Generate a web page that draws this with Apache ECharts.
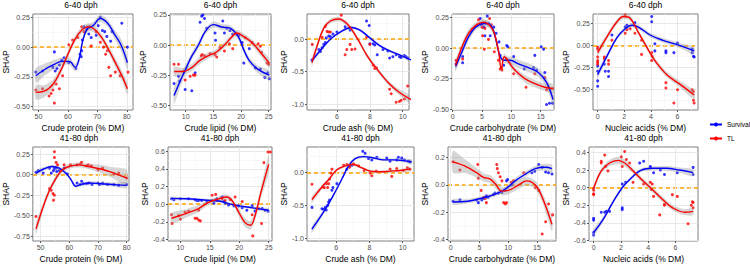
<!DOCTYPE html>
<html>
<head>
<meta charset="utf-8">
<script src="https://cdn.jsdelivr.net/npm/echarts@6/dist/echarts.min.js"></script>
<style>
html,body{margin:0;padding:0;background:#fff}
#main{width:750px;height:264px}
</style>
</head>
<body>
<div id="main"></div>
<script>
// tick labels
var proteinTicks = [50, 60, 70, 80]
var lipidTicks = [10, 15, 20, 25]
var ashTicks = [6, 8, 10]
var carbTicks = [0, 5, 10, 15]
var nucleicTicks = [0, 2, 4, 6]

// ---- 6-40 dph ----  points [x, shap], fits [x, shap, se]
var protEarlySurv = [[49.1,-0.21],[51.4,-0.20],[54.9,-0.17],[55.4,-0.04],[55.7,-0.20],[56.3,-0.18],[57.1,-0.15],[57.9,-0.11],[58.7,-0.09],[60.3,-0.13],[62.7,-0.18],[64.1,-0.06],[64.5,-0.08],[64.7,-0.03],[64.9,0.06],[65.5,0.17],[66.3,0.15],[67.1,0.11],[67.9,0.08],[69.6,0.10],[70.3,0.18],[71.0,0.25],[71.7,0.14],[72.5,0.13],[73.2,0.09],[74.5,0.05],[75.0,0.13],[78.3,0.20],[80.2,0.0]]
var protEarlyTL = [[49.1,-0.36],[51.4,-0.35],[53.6,-0.41],[54.3,-0.39],[54.9,-0.36],[55.4,-0.47],[56.0,-0.31],[57.1,-0.35],[58.2,-0.24],[60.3,0.02],[61.6,0.06],[63.4,0.08],[64.7,0.17],[65.5,0.13],[66.6,0.17],[67.4,0.17],[67.9,0.01],[69.6,0.13],[71.0,0.04],[72.1,0.0],[72.8,-0.06],[73.4,-0.03],[73.9,-0.17],[74.5,-0.24],[76.1,-0.21],[77.7,-0.24],[80.4,-0.21]]
var protEarlySurvFit = [[49.1,-0.24,0.06],[52,-0.19,0.05],[55,-0.15,0.04],[58,-0.12,0.03],[60.5,-0.12,0.03],[62.5,-0.17,0.03],[63.8,-0.10,0.03],[65,0.05,0.03],[66.5,0.15,0.03],[68.5,0.18,0.03],[71,0.24,0.03],[73.5,0.20,0.03],[76,0.10,0.04],[78,0.02,0.05],[80.2,-0.13,0.06]]
var protEarlyTLFit = [[49.1,-0.38,0.06],[52,-0.37,0.05],[55,-0.31,0.04],[57.5,-0.20,0.035],[60,-0.06,0.03],[62.5,0.07,0.03],[65,0.15,0.03],[67,0.17,0.03],[69,0.15,0.03],[71.5,0.08,0.03],[74,-0.03,0.03],[76.5,-0.15,0.04],[78.5,-0.25,0.045],[80.2,-0.35,0.05]]

var lipidEarlySurv = [[7.9,-0.32],[8.7,-0.26],[8.9,-0.30],[9.9,-0.37],[11.1,-0.38],[11.7,-0.23],[12.6,0.19],[12.9,0.24],[13.1,0.25],[13.4,0.22],[13.8,0.14],[15.3,0.10],[15.4,0.04],[16.7,0.20],[17.0,0.10],[17.4,0.14],[18.0,0.12],[18.5,0.09],[19.6,0.08],[20.2,0.02],[20.5,-0.15],[21.5,-0.03],[22.6,-0.19],[23.5,-0.20],[24.3,-0.27],[24.8,-0.23],[25.1,-0.28]]
var lipidEarlyTL = [[7.9,-0.16],[8.7,-0.16],[9.6,-0.22],[9.9,-0.29],[10.8,-0.26],[11.4,-0.25],[11.7,-0.25],[12.8,-0.09],[13.0,-0.08],[13.4,-0.09],[14.4,-0.07],[15.3,-0.08],[15.6,-0.10],[16.2,-0.02],[17.0,-0.05],[17.9,0.01],[18.5,-0.03],[19.2,0.09],[20.8,0.06],[22.0,0.02],[23.1,0.01],[23.5,-0.01],[23.7,-0.06],[24.7,-0.15],[25.0,-0.16]]
var lipidEarlySurvFit = [[7.9,-0.42,0.07],[9,-0.30,0.05],[10,-0.20,0.04],[11,-0.10,0.03],[12.3,0.0,0.03],[13.5,0.11,0.025],[15,0.17,0.025],[16.5,0.15,0.025],[18,0.14,0.025],[19.5,0.07,0.025],[20.5,-0.04,0.025],[21.5,-0.13,0.025],[23,-0.20,0.03],[25.1,-0.25,0.04]]
var lipidEarlyTLFit = [[7.9,-0.22,0.04],[9.5,-0.22,0.03],[11,-0.19,0.03],[12.5,-0.13,0.03],[14,-0.09,0.025],[15.5,-0.06,0.025],[17,0.0,0.025],[18.2,0.06,0.025],[19.2,0.10,0.025],[20.5,0.07,0.025],[22,0.02,0.025],[23.5,-0.06,0.03],[25.1,-0.15,0.04]]

var ashEarlySurv = [[4.48,-0.32],[4.9,-0.16],[5.0,-0.19],[5.1,-0.13],[5.2,-0.08],[5.3,-0.05],[5.35,0.02],[5.5,0.05],[5.6,0.04],[5.76,0.08],[6.0,0.11],[6.5,0.19],[6.8,0.14],[7.8,0.28],[7.96,0.21],[8.0,-0.07],[8.2,-0.07],[8.3,-0.09],[8.45,-0.24],[8.8,-0.16],[9.1,-0.18],[9.2,-0.29],[9.4,-0.27],[9.6,-0.24],[9.8,-0.27],[9.9,-0.28],[10.1,-0.25],[10.2,-0.27],[10.3,-0.29],[10.5,-0.28]]
var ashEarlyTL = [[4.5,-0.08],[5.1,0.03],[5.3,0.20],[5.4,0.12],[5.5,0.11],[5.6,0.11],[6.26,0.37],[6.5,-0.24],[6.6,-0.16],[6.8,-0.08],[6.8,0.18],[6.9,-0.16],[7.1,-0.15],[7.8,0.03],[8.0,-0.08],[8.2,-0.40],[8.3,-0.45],[8.4,-0.44],[9.2,-0.77],[9.3,-0.84],[9.6,-0.97],[9.8,-0.96],[9.9,-0.94],[10.1,-0.92],[10.3,-0.72],[10.45,-0.78],[10.5,-0.72]]
var ashEarlySurvFit = [[4.48,-0.33,0.04],[5.0,-0.17,0.03],[5.6,0.0,0.02],[6.2,0.11,0.02],[6.9,0.18,0.02],[7.4,0.14,0.02],[8.0,0.02,0.02],[8.6,-0.10,0.02],[9.2,-0.18,0.02],[9.8,-0.24,0.02],[10.5,-0.32,0.035]]
var ashEarlyTLFit = [[4.48,-0.36,0.06],[4.8,-0.10,0.05],[5.2,0.17,0.04],[5.6,0.28,0.035],[6.1,0.31,0.035],[6.6,0.24,0.035],[7.2,0.03,0.035],[7.8,-0.24,0.035],[8.4,-0.45,0.035],[9.2,-0.69,0.04],[9.8,-0.82,0.045],[10.5,-0.93,0.06]]

var carbEarlySurv = [[0.57,-0.13],[0.74,-0.11],[1.7,-0.07],[1.7,-0.12],[4.7,0.24],[4.9,0.19],[5.3,0.17],[5.5,0.10],[5.9,0.26],[6.1,0.20],[6.4,0.10],[7.0,0.17],[7.4,0.12],[7.9,0.05],[8.1,-0.06],[8.7,-0.14],[9.2,0.02],[9.4,0.01],[10.4,-0.07],[12.2,-0.17],[13.8,-0.16],[14.0,-0.06],[14.3,-0.18],[15.1,0.01],[15.5,-0.01],[15.7,-0.20],[16.0,-0.46],[16.5,-0.45],[17.0,-0.45]]
var carbEarlyTL = [[0.57,-0.10],[1.7,-0.09],[4.4,0.23],[5.0,0.17],[5.1,0.10],[5.4,-0.01],[5.5,0.16],[6.1,0.07],[6.3,0.24],[6.6,0.19],[7.1,-0.03],[7.8,-0.10],[8.1,-0.17],[8.3,-0.16],[8.4,-0.18],[9.2,-0.09],[10.4,-0.21],[12.5,-0.32],[14.0,-0.21],[15.7,-0.24],[16.0,-0.34],[16.3,-0.32],[17.0,-0.33]]
var carbEarlySurvFit = [[0.5,-0.15,0.04],[1.6,-0.03,0.03],[2.7,0.09,0.03],[3.9,0.17,0.025],[5.3,0.20,0.025],[6.4,0.19,0.025],[7.2,0.10,0.025],[8.1,-0.07,0.025],[8.8,-0.10,0.025],[9.8,-0.10,0.03],[11.2,-0.13,0.035],[12.9,-0.16,0.035],[14.6,-0.20,0.035],[16,-0.28,0.04],[17.1,-0.42,0.05]]
var carbEarlyTLFit = [[0.5,-0.14,0.04],[1.6,0.01,0.03],[2.7,0.12,0.03],[4.1,0.19,0.025],[5.3,0.21,0.025],[6.4,0.18,0.025],[7.1,0.12,0.025],[7.8,-0.02,0.025],[8.3,-0.17,0.025],[8.8,-0.07,0.025],[9.5,-0.11,0.025],[10.6,-0.18,0.025],[12.3,-0.25,0.03],[14,-0.29,0.03],[15.7,-0.32,0.03],[17,-0.33,0.04]]

var nucEarlySurv = [[0,-0.23],[0,-0.29],[0,-0.40],[0,-0.46],[0.5,-0.21],[0.57,-0.29],[0.82,-0.29],[0.82,-0.35],[1.07,0.12],[2.07,0.21],[2.2,0.23],[2.8,0.26],[4.06,0.33],[4.06,0.27],[4.3,0.02],[4.3,-0.06],[5.13,-0.06],[5.13,-0.08],[5.73,-0.08],[6.0,0.03],[7.1,-0.04],[7.1,-0.08],[7.2,-0.12],[7.25,-0.13]]
var nucEarlyTL = [[0,-0.02],[0,-0.04],[0,-0.13],[0,-0.17],[0,-0.19],[0,-0.21],[0.5,-0.13],[0.5,-0.15],[0.82,-0.17],[0.82,-0.21],[1.07,0.06],[2.07,0.35],[2.07,0.14],[2.2,0.18],[2.44,0.19],[2.8,0.14],[3.3,0.06],[3.3,-0.10],[4.06,-0.08],[4.06,-0.17],[4.1,-0.12],[5.13,-0.42],[5.13,-0.48],[6.0,-0.50],[5.73,-0.65],[7.1,-0.50],[7.2,-0.52],[7.2,-0.62],[7.25,-0.65]]
var nucEarlySurvFit = [[0,-0.33,0.04],[0.7,-0.12,0.03],[1.45,0.09,0.025],[2.07,0.19,0.025],[2.56,0.23,0.025],[3.06,0.21,0.025],[3.94,0.12,0.025],[4.9,0.06,0.025],[6.2,0.0,0.03],[7.25,-0.06,0.04]]
var nucEarlyTLFit = [[0,-0.08,0.04],[0.7,0.10,0.03],[1.45,0.27,0.03],[1.95,0.33,0.03],[2.44,0.31,0.03],[3.06,0.15,0.03],[3.7,-0.02,0.03],[4.3,-0.17,0.03],[5.2,-0.33,0.03],[6.2,-0.44,0.035],[7.25,-0.56,0.05]]

// ---- 41-80 dph ----
var protLateSurv = [[48.4,0.03],[49.2,0.05],[50.9,0.02],[53.1,0.08],[53.7,0.02],[54.5,0.05],[54.8,0.08],[55.4,0.08],[55.6,0.04],[56.5,0.05],[58.2,0.08],[59.3,0.01],[62.7,-0.10],[63.8,-0.12],[64.3,-0.08],[64.9,-0.11],[66.0,-0.11],[66.8,-0.10],[67.9,-0.12],[70.0,-0.10],[70.5,-0.12],[71.6,-0.10],[73.3,-0.12],[75.5,-0.12],[77.2,-0.13],[80.0,-0.12]]
var protLateTL = [[48.4,-0.51],[53.1,-0.17],[53.7,-0.19],[54.3,-0.23],[54.5,-0.31],[54.8,-0.25],[54.8,0.28],[54.8,0.21],[55.4,0.15],[55.9,0.12],[57.1,0.05],[58.2,0.12],[60.4,0.12],[62.7,0.12],[63.8,0.13],[64.3,0.15],[66.0,0.11],[66.6,0.12],[67.7,0.11],[70.0,0.06],[71.6,0.08],[75.5,0.01],[77.2,0.02],[80.0,-0.04]]
var protLateSurvFit = [[48.4,0.02,0.03],[51,0.07,0.025],[54,0.10,0.02],[56.5,0.08,0.02],[58.7,0.02,0.02],[60.4,-0.05,0.02],[62.3,-0.14,0.02],[64,-0.12,0.02],[67,-0.10,0.02],[71,-0.11,0.02],[75,-0.12,0.025],[80,-0.13,0.035]]
var protLateTLFit = [[48.4,-0.66,0.07],[50.9,-0.39,0.05],[53.1,-0.19,0.04],[55.4,-0.04,0.035],[57.6,0.06,0.03],[59.9,0.10,0.03],[63.2,0.12,0.03],[66.6,0.10,0.03],[71,0.07,0.05],[75.5,0.02,0.07],[80,-0.04,0.1]]

var lipidLateSurv = [[8.5,0.06],[8.9,0.05],[10,0.06],[11.4,0.06],[12.5,0.05],[12.8,0.04],[13.1,0.04],[13.6,0.04],[14.5,0.03],[15.4,0.04],[15.7,0.01],[16.2,0.06],[17.1,0.08],[17.4,0.03],[17.6,0.01],[18.2,-0.01],[19.1,-0.02],[19.9,-0.02],[20.5,-0.04],[21.3,-0.07],[22.2,-0.02],[22.7,-0.08],[23.9,-0.05],[24.4,-0.07],[24.9,-0.08]]
var lipidLateTL = [[8.5,-0.12],[8.6,-0.22],[9.7,-0.13],[10.0,-0.17],[10.8,-0.09],[11.4,-0.08],[12.5,-0.16],[12.8,-0.16],[13.1,-0.18],[13.4,-0.19],[13.1,-0.07],[15.4,0.10],[16.0,0.11],[16.2,0.04],[17.1,0.06],[17.6,0.04],[18.5,0.05],[19.3,0.08],[20.5,0.03],[22.2,-0.12],[22.3,-0.36],[23.3,-0.05],[23.8,-0.22],[24.2,0.47],[24.9,0.59],[25.3,0.59]]
var lipidLateSurvFit = [[8.5,0.065,0.02],[11,0.06,0.015],[13.5,0.05,0.015],[15.5,0.04,0.015],[17,0.03,0.015],[18.5,0.0,0.015],[20,-0.02,0.015],[22,-0.04,0.015],[24,-0.06,0.02],[25,-0.07,0.025]]
var lipidLateTLFit = [[8.5,-0.16,0.06],[10.8,-0.11,0.05],[13.1,-0.05,0.04],[14.8,0.02,0.03],[16.5,0.06,0.03],[17.9,0.08,0.03],[18.8,0.04,0.03],[19.9,-0.09,0.04],[21,-0.21,0.05],[21.9,-0.24,0.05],[22.7,-0.13,0.05],[23.6,0.11,0.06],[25,0.45,0.1]]

var ashLateSurv = [[4.54,-0.53],[5.14,-0.55],[5.24,-0.56],[5.34,-0.53],[5.4,-0.57],[5.48,-0.50],[5.54,-0.45],[5.6,-0.42],[5.74,-0.27],[5.8,-0.23],[6.04,-0.17],[6.64,0.05],[6.8,0.10],[6.94,0.11],[7.6,0.32],[7.74,0.29],[7.94,0.21],[8.14,0.19],[8.44,0.23],[9.04,0.22],[9.24,0.17],[9.64,0.19],[9.74,0.23],[9.94,0.22],[10.1,0.19],[10.34,0.17],[10.44,0.16]]
var ashLateTL = [[4.54,-0.18],[5.2,-0.22],[5.28,-0.23],[5.4,-0.17],[5.48,-0.23],[5.54,-0.17],[5.6,-0.10],[5.68,-0.01],[5.74,0.05],[6.44,0.11],[6.64,0.12],[6.8,0.08],[7.04,0.13],[7.34,0.10],[7.68,0.03],[8.04,-0.01],[8.14,-0.05],[8.4,0.02],[9.24,0.05],[9.34,-0.06],[9.64,0.06],[10.04,0.03],[10.28,0.07],[10.44,0.05]]
var ashLateSurvFit = [[4.54,-0.86,0.05],[5.24,-0.60,0.03],[5.84,-0.34,0.025],[6.34,-0.10,0.02],[6.74,0.10,0.02],[7.14,0.21,0.02],[7.64,0.24,0.02],[8.24,0.22,0.02],[8.84,0.19,0.02],[9.44,0.19,0.02],[10.04,0.18,0.025],[10.54,0.16,0.04]]
var ashLateTLFit = [[4.54,-0.41,0.05],[5.14,-0.22,0.03],[5.54,-0.11,0.025],[6.04,0.04,0.02],[6.54,0.10,0.02],[7.04,0.12,0.02],[7.54,0.07,0.02],[8.04,0.02,0.02],[8.7,0.01,0.02],[9.24,0.02,0.02],[9.84,0.03,0.02],[10.44,0.05,0.03]]

var carbLateSurv = [[0.4,-0.12],[1.6,-0.11],[4.5,-0.11],[4.8,-0.13],[5.4,-0.11],[5.7,-0.10],[6.0,-0.09],[6.2,-0.08],[6.5,-0.09],[7.4,-0.07],[7.7,-0.06],[8.3,-0.06],[8.9,-0.055],[9.4,-0.04],[9.7,0.03],[9.9,0.04],[10.6,0.0],[14.1,0.09],[14.6,0.10],[15.3,0.15],[15.9,0.13],[16.5,0.095],[17.0,0.09],[17.6,0.08]]
var carbLateTL = [[0.4,0.17],[1.6,0.11],[4.7,0.15],[4.8,0.05],[5.3,-0.04],[5.7,-0.09],[6.0,-0.10],[6.2,-0.13],[8.0,0.15],[8.1,0.12],[8.3,0.09],[8.6,0.06],[8.9,0.03],[9.2,-0.13],[9.5,-0.14],[9.7,-0.13],[10.5,0.02],[10.9,0.03],[12.7,0.09],[14.7,-0.02],[15.3,-0.04],[15.9,-0.36],[16.5,-0.27],[17.0,-0.14],[17.7,-0.22]]
var carbLateSurvFit = [[0.4,-0.125,0.02],[3,-0.12,0.015],[6,-0.09,0.015],[7.7,-0.07,0.015],[9.5,-0.03,0.015],[11.2,0.03,0.02],[13,0.08,0.02],[14.7,0.12,0.02],[16.5,0.13,0.025],[17.6,0.12,0.03]]
var carbLateTLFit = [[0.4,0.17,0.08],[2.4,0.14,0.05],[4.5,0.09,0.035],[5.7,0.055,0.03],[6.8,0.045,0.03],[7.7,0.01,0.03],[8.9,-0.045,0.03],[10,-0.04,0.03],[11.8,0.0,0.03],[13.2,0.03,0.03],[14.7,0.0,0.03],[15.9,-0.09,0.035],[17.6,-0.29,0.05]]

var nucLateSurv = [[0,-0.35],[0,-0.37],[0,-0.51],[0,-0.54],[0.56,-0.28],[0.81,-0.28],[0.93,-0.27],[1.17,-0.27],[2.1,-0.23],[2.1,-0.25],[2.1,0.04],[2.35,0.06],[3.38,0.28],[3.67,0.30],[4.16,0.24],[4.16,0.23],[4.4,0.17],[4.9,0.20],[5.2,0.15],[6.14,0.17],[7.3,0.23],[7.3,0.15]]
var nucLateTL = [[0,-0.01],[0,-0.03],[0,-0.07],[0,-0.08],[0.56,0.30],[0.56,0.28],[0.81,0.37],[0.88,0.24],[1.05,0.19],[2.03,0.35],[2.1,0.24],[2.28,0.41],[2.4,0.32],[2.64,0.28],[2.89,0.06],[3.67,0.04],[4.16,0.06],[4.23,-0.02],[4.4,-0.10],[4.3,0.04],[4.85,-0.31],[5.2,-0.19],[5.2,-0.20],[5.78,-0.08],[6.14,-0.10],[6.93,-0.41],[7.17,-0.20],[7.25,-0.16],[7.3,-0.17],[7.3,-0.23]]
var nucLateSurvFit = [[0,-0.51,0.04],[0.7,-0.36,0.03],[1.4,-0.17,0.025],[2.15,0.01,0.02],[2.9,0.13,0.02],[3.5,0.20,0.02],[4.36,0.22,0.02],[5.34,0.22,0.025],[6.3,0.20,0.03],[7.3,0.17,0.04]]
var nucLateTLFit = [[0,-0.01,0.03],[0.56,0.19,0.03],[1.17,0.28,0.035],[1.79,0.31,0.04],[2.28,0.28,0.04],[2.9,0.19,0.03],[3.6,0.08,0.03],[4.36,-0.03,0.03],[5.1,-0.14,0.03],[5.8,-0.23,0.03],[6.7,-0.28,0.035],[7.3,-0.27,0.04]]

var zeroLine = [0]   // dashed reference at SHAP = 0

var FONT = '"Liberation Sans", Arial, sans-serif'
var SURV = '#0000ff', TL = '#ff0000'

// panel layout: rect = [left, top, width, height]
var panels = [
  {title:'6-40 dph', xName:'Crude protein (% DM)', rect:[29,14,104,96], x:[48.1,82.1], y:[-0.528,0.278], xt:proteinTicks, yt:[-0.5,-0.25,0,0.25], yGap:20, surv:protEarlySurv, tl:protEarlyTL, survFit:protEarlySurvFit, tlFit:protEarlyTLFit},
  {title:'6-40 dph', xName:'Crude lipid (% DM)', rect:[170,14,101,96], x:[7.16,25.42], y:[-0.54,0.258], xt:lipidTicks, yt:[-0.5,-0.25,0,0.25], yGap:22, surv:lipidEarlySurv, tl:lipidEarlyTL, survFit:lipidEarlySurvFit, tlFit:lipidEarlyTLFit},
  {title:'6-40 dph', xName:'Crude ash (% DM)', rect:[307,14,102,96], x:[4.18,10.38], y:[-1.09,0.388], xt:ashTicks, yt:[-1,-0.5,0], yGap:16, surv:ashEarlySurv, tl:ashEarlyTL, survFit:ashEarlySurvFit, tlFit:ashEarlyTLFit},
  {title:'6-40 dph', xName:'Crude carbohydrate (% DM)', rect:[452,14,102,96], x:[-0.11,17.27], y:[-0.505,0.277], xt:carbTicks, yt:[-0.5,-0.25,0,0.25], yGap:16, surv:carbEarlySurv, tl:carbEarlyTL, survFit:carbEarlySurvFit, tlFit:carbEarlyTLFit},
  {title:'6-40 dph', xName:'Nucleic acids (% DM)', rect:[593,14,105,96], x:[-0.35,7.54], y:[-0.73,0.358], xt:nucleicTicks, yt:[-0.5,-0.25,0,0.25], yGap:13, surv:nucEarlySurv, tl:nucEarlyTL, survFit:nucEarlySurvFit, tlFit:nucEarlyTLFit},
  {title:'41-80 dph', xName:'Crude protein (% DM)', rect:[29,147,100,96], x:[47.3,80.8], y:[-0.808,0.338], xt:proteinTicks, yt:[-0.75,-0.5,-0.25,0,0.25], yGap:21, surv:protLateSurv, tl:protLateTL, survFit:protLateSurvFit, tlFit:protLateTLFit},
  {title:'41-80 dph', xName:'Crude lipid (% DM)', rect:[168,147,104,96], x:[7.9,25.57], y:[-0.418,0.647], xt:lipidTicks, yt:[-0.4,-0.2,0,0.2,0.4,0.6], yGap:19, surv:lipidLateSurv, tl:lipidLateTL, survFit:lipidLateSurvFit, tlFit:lipidLateTLFit},
  {title:'41-80 dph', xName:'Crude ash (% DM)', rect:[307,147,107,96], x:[4.24,10.68], y:[-1.04,0.386], xt:ashTicks, yt:[-1,-0.5,0], yGap:16, surv:ashLateSurv, tl:ashLateTL, survFit:ashLateSurvFit, tlFit:ashLateTLFit},
  {title:'41-80 dph', xName:'Crude carbohydrate (% DM)', rect:[448,147,108,96], x:[-0.47,18.3], y:[-0.412,0.279], xt:carbTicks, yt:[-0.4,-0.2,0,0.2], yGap:14, surv:carbLateSurv, tl:carbLateTL, survFit:carbLateSurvFit, tlFit:carbLateTLFit},
  {title:'41-80 dph', xName:'Nucleic acids (% DM)', rect:[589,147,109,96], x:[-0.34,7.66], y:[-0.607,0.462], xt:nucleicTicks, yt:[-0.6,-0.4,-0.2,0,0.2,0.4], yGap:10, surv:nucLateSurv, tl:nucLateTL, survFit:nucLateSurvFit, tlFit:nucLateTLFit}
]

// ggplot style minor breaks: midpoints of the majors, extended one step each side
function minorBreaks(ticks, range) {
  var step = ticks[1] - ticks[0]
  var b = [ticks[0] - step].concat(ticks, [ticks[ticks.length - 1] + step])
  var out = []
  for (var i = 0; i < b.length - 1; i++) {
    var m = (b[i] + b[i + 1]) / 2
    if (m > range[0] && m < range[1]) out.push(m)
  }
  return out
}
function decimals(ticks) {
  var d = 0
  ticks.forEach(function (t) {
    var s = String(t).split('.')[1]
    if (s && s.length > d) d = s.length
  })
  return d
}

function majorAxis(gi, range, ticks, name, gap, isY) {
  var dec = decimals(ticks)
  return {
    type: 'value', gridIndex: gi, min: range[0], max: range[1],
    position: isY ? 'left' : 'bottom',
    name: name, nameLocation: 'middle', nameGap: gap, nameRotate: isY ? 90 : 0,
    nameTextStyle: {fontSize: 8.5, color: '#000', fontFamily: FONT, fontWeight: 'normal'},
    axisLine: {show: false, onZero: false},
    axisTick: {show: true, length: 2, lineStyle: {color: '#333', width: 0.8}, customValues: ticks},
    axisLabel: {fontSize: 7, color: '#4d4d4d', fontFamily: FONT, margin: 3, customValues: ticks,
      formatter: function (v) { return Number(v).toFixed(dec) }},
    splitLine: {show: true, lineStyle: {color: '#e8e8e8', width: 1}}
  }
}
// silent axis used only for its split lines
function lineAxis(gi, range, values, isY, lineStyle) {
  return {
    type: 'value', gridIndex: gi, min: range[0], max: range[1],
    position: isY ? 'left' : 'bottom',
    axisLine: {show: false, onZero: false}, axisLabel: {show: false},
    axisTick: {show: false, customValues: values},
    splitLine: {show: true, lineStyle: lineStyle}
  }
}
var minorStyle = {color: '#f3f3f3', width: 0.6}
var zeroStyle = {color: '#ffa500', type: [4, 3], width: 1.5}

function bandSeries(fit, xi, yi) {
  return {
    type: 'custom', xAxisIndex: xi, yAxisIndex: yi, clip: true, silent: true, z: 3,
    data: [[fit[0][0], fit[0][1]]],
    renderItem: function (params, api) {
      var pts = []
      fit.forEach(function (p) { pts.push(api.coord([p[0], p[1] + p[2]])) })
      for (var k = fit.length - 1; k >= 0; k--) pts.push(api.coord([fit[k][0], fit[k][1] - fit[k][2]]))
      return {type: 'polygon', shape: {points: pts, smooth: 0.25}, style: {fill: 'rgba(153,153,153,0.4)'}}
    }
  }
}
function lineSeries(name, fit, color, xi, yi) {
  return {
    type: 'line', name: name, xAxisIndex: xi, yAxisIndex: yi, z: 4,
    data: fit.map(function (p) { return [p[0], p[1]] }),
    smooth: 0.4, symbol: 'circle', symbolSize: 3, showSymbol: false,
    lineStyle: {color: color, width: 1.4}, itemStyle: {color: color}, silent: true
  }
}
function pointSeries(name, pts, color, xi, yi) {
  return {type: 'scatter', name: name, xAxisIndex: xi, yAxisIndex: yi, z: 2,
    data: pts, symbolSize: 3, itemStyle: {color: color}, silent: true}
}

var option = {
  animation: false,
  backgroundColor: '#fff',
  grid: [], xAxis: [], yAxis: [], series: [], graphic: [],
  legend: {
    orient: 'vertical', left: 709, top: 121, padding: 0, itemWidth: 12, itemHeight: 5, itemGap: 7,
    selectedMode: false, data: ['Survival', 'TL'],
    textStyle: {fontSize: 6.5, color: '#000', fontFamily: FONT}
  }
}

panels.forEach(function (p, i) {
  var r = p.rect
  option.grid.push({left: r[0], top: r[1], width: r[2], height: r[3], show: true,
    borderColor: '#7f7f7f', borderWidth: 1, backgroundColor: 'transparent'})
  option.xAxis.push(majorAxis(i, p.x, p.xt, p.xName, 13, false))
  option.xAxis.push(lineAxis(i, p.x, minorBreaks(p.xt, p.x), false, minorStyle))
  option.yAxis.push(majorAxis(i, p.y, p.yt, 'SHAP', p.yGap, true))
  option.yAxis.push(lineAxis(i, p.y, minorBreaks(p.yt, p.y), true, minorStyle))
  option.yAxis.push(lineAxis(i, p.y, zeroLine, true, zeroStyle))
  var xi = 2 * i, yi = 3 * i
  option.series.push(lineSeries('Survival', p.survFit, SURV, xi, yi))
  option.series.push(lineSeries('TL', p.tlFit, TL, xi, yi))
  option.series.push(pointSeries('Survival points', p.surv, SURV, xi, yi))
  option.series.push(pointSeries('TL points', p.tl, TL, xi, yi))
  option.series.push(bandSeries(p.survFit, xi, yi))
  option.series.push(bandSeries(p.tlFit, xi, yi))
  option.graphic.push({type: 'text', x: r[0] + r[2] / 2, y: r[1] - 9,
    style: {text: p.title, fontSize: 8.5, fill: '#000', fontFamily: FONT, textAlign: 'center', textVerticalAlign: 'middle'}})
})

var chart = echarts.init(document.getElementById('main'), null, {renderer: 'svg'})
chart.setOption(option)
</script>
</body>
</html>
